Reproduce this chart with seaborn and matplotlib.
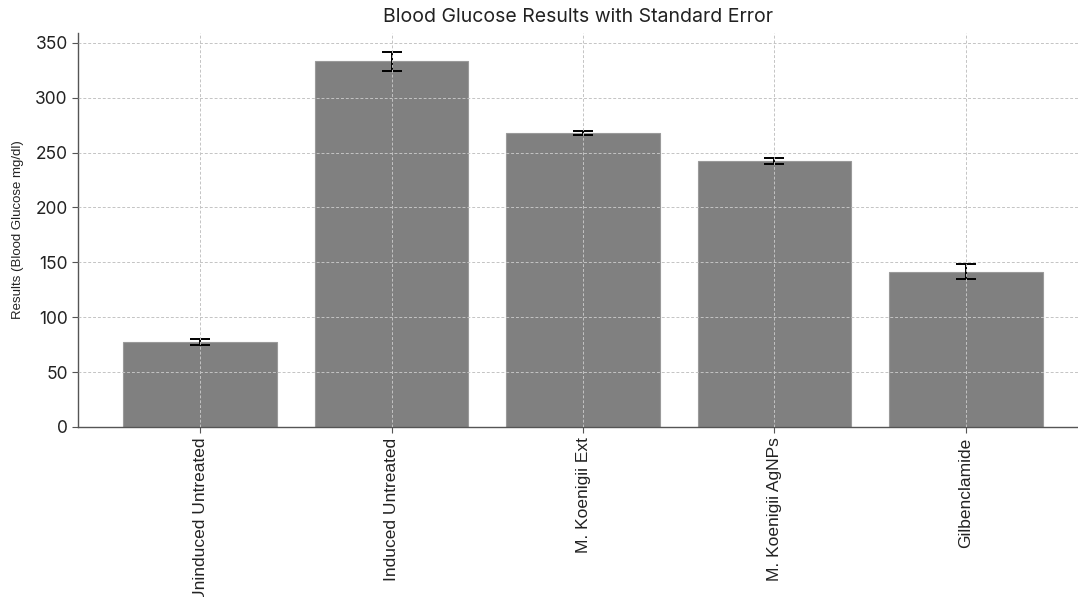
import matplotlib
matplotlib.use("Agg")
import matplotlib.pyplot as plt
import seaborn as sns
import numpy as np

groups = ["Uninduced Untreated", "Induced Untreated", "M. Koenigii Ext",
          "M. Koenigii AgNPs", "Gilbenclamide"]
means = [77.5, 333.0, 267.7, 242.2, 141.5]
sems = [2.8, 8.5, 2.0, 2.7, 7.0]

sns.set_style("ticks")
fig = plt.figure(figsize=(10.78, 5.97), dpi=100)
ax = fig.add_axes([0.0724, 0.2848, 0.9276, 0.66])

sns.barplot(x=groups, y=means, color="#808080", saturation=1, width=0.8,
            edgecolor="#9a9a9a", linewidth=0.8, ax=ax)
ax.errorbar(x=np.arange(len(groups)), y=means, yerr=sems, fmt="none",
            ecolor="black", elinewidth=1.4, capsize=7.5, capthick=1.4)

ax.set_xlim(-0.637, 4.585)
ax.set_ylim(0, 359)
ax.set_yticks([0, 50, 100, 150, 200, 250, 300, 350])

ax.set_axisbelow(False)
ax.grid(True, linestyle=(0, (3, 2)), color="#c4c4c4", linewidth=0.7)

sns.despine(ax=ax)
for side in ["left", "bottom"]:
    ax.spines[side].set_color("#555555")
    ax.spines[side].set_linewidth(1.0)
ax.tick_params(axis="both", colors="#555555", length=4, width=0.8)

for lab in ax.get_xticklabels():
    lab.set_rotation(90)
    lab.set_fontfamily("Liberation Sans")
    lab.set_fontsize(12.5)
    lab.set_color("#222222")
for lab in ax.get_yticklabels():
    lab.set_fontfamily("Inter")
    lab.set_fontsize(12.5)
    lab.set_color("#222222")

ax.set_xlabel("")
ax.set_ylabel("Results (Blood Glucose mg/dl)", fontfamily="Liberation Sans",
              fontsize=9.5, color="#222222", labelpad=8)
ax.set_title("Blood Glucose Results with Standard Error", fontfamily="Inter",
             fontsize=14, color="#222222", pad=8)

fig.savefig("out.png", dpi=100)
